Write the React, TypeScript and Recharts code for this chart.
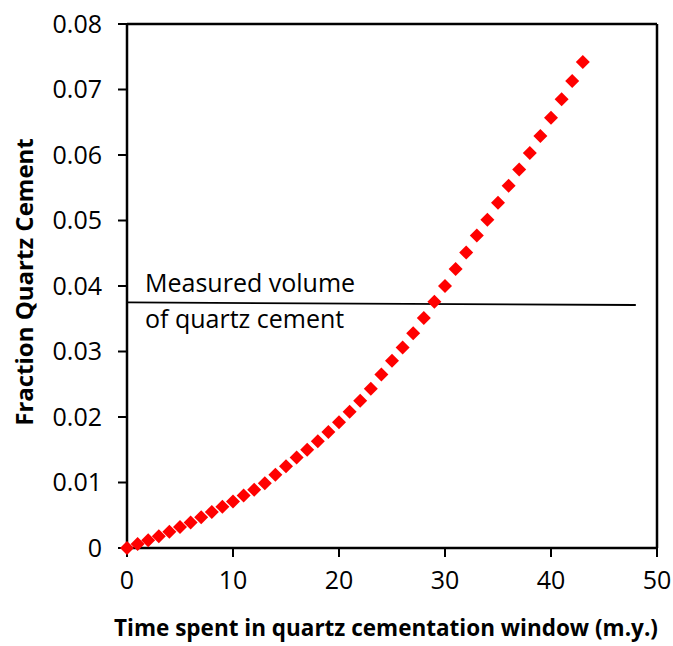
import React from 'react';
import { ScatterChart, Scatter, XAxis, YAxis, ReferenceLine, ReferenceDot, Label } from 'recharts';

// time spent in the quartz cementation window (m.y.)
const timeMy = [
  0, 1, 2, 3, 4, 5, 6, 7, 8, 9, 10, 11, 12, 13, 14, 15, 16, 17, 18, 19, 20, 21,
  22, 23, 24, 25, 26, 27, 28, 29, 30, 31, 32, 33, 34, 35, 36, 37, 38, 39, 40, 41, 42, 43,
];
// fraction of quartz cement
const quartzFraction = [
  0.0, 0.0006, 0.0012, 0.0018, 0.0025, 0.0032, 0.0039, 0.0047, 0.0055, 0.0063, 0.0071,
  0.008, 0.0089, 0.0099, 0.0112, 0.0125, 0.0138, 0.015, 0.0163, 0.0177, 0.0192, 0.0208,
  0.0225, 0.0243, 0.0265, 0.0286, 0.0306, 0.0328, 0.0351, 0.0376, 0.04, 0.0426, 0.0451,
  0.0477, 0.0501, 0.0527, 0.0553, 0.0578, 0.0603, 0.0629, 0.0657, 0.0685, 0.0713, 0.0742,
];
// hand-drawn "measured volume" line, start and end
const measuredX = [0, 48];
const measuredY = [0.0375, 0.0371];
const measuredText = ['Measured volume', 'of quartz cement'];

const xTicks = [0, 10, 20, 30, 40, 50];
const yTicks = [0, 0.01, 0.02, 0.03, 0.04, 0.05, 0.06, 0.07, 0.08];

const font = "'Open Sans', sans-serif";

const points = timeMy.map((t, i) => ({ time: t, fraction: quartzFraction[i] }));

const Diamond = (props: any) => {
  const { cx, cy } = props;
  const h = 7;
  return (
    <polygon
      points={`${cx},${cy - h} ${cx + h},${cy} ${cx},${cy + h} ${cx - h},${cy}`}
      fill="#ff0000"
    />
  );
};

const YTitle = (props: any) => {
  const { viewBox } = props;
  const x = viewBox.x + 15;
  const y = viewBox.y + viewBox.height / 2 - 4;
  return (
    <text
      x={x}
      y={y}
      transform={`rotate(-90, ${x}, ${y})`}
      textAnchor="middle"
      dominantBaseline="central"
      fontFamily={font}
      fontWeight="bold"
      fontSize={24}
      fill="#000"
    >
      Fraction Quartz Cement
    </text>
  );
};

const XTitle = (props: any) => {
  const { viewBox } = props;
  return (
    <text
      x={viewBox.x + viewBox.width / 2 - 6}
      y={viewBox.y + 88}
      textAnchor="middle"
      fontFamily={font}
      fontWeight="bold"
      fontSize={22.5}
      fill="#000"
    >
      Time spent in quartz cementation window (m.y.)
    </text>
  );
};

const NoteLabel = (props: any) => {
  const { viewBox } = props;
  return (
    <text fontFamily={font} fontSize={25} fill="#000">
      <tspan x={viewBox.x} y={viewBox.y}>{measuredText[0]}</tspan>
      <tspan x={viewBox.x} y={viewBox.y + 36}>{measuredText[1]}</tspan>
    </text>
  );
};

export default function App() {
  return (
    <div style={{ position: 'absolute', left: 8, top: 8, width: 665, height: 638 }}>
      <ScatterChart width={665} height={638} margin={{ top: 16, right: 16, left: 0, bottom: 0 }}>
        <XAxis
          dataKey="time"
          type="number"
          domain={[0, 50]}
          ticks={xTicks}
          height={98}
          tickSize={9}
          tickMargin={14}
          axisLine={{ stroke: '#000', strokeWidth: 2.5 }}
          tickLine={{ stroke: '#000', strokeWidth: 2 }}
          tick={{ fontFamily: font, fontSize: 25, fill: '#000' }}
          label={<Label content={XTitle} />}
        />
        <YAxis
          dataKey="fraction"
          type="number"
          domain={[0, 0.08]}
          ticks={yTicks}
          width={119}
          tickSize={9}
          tickMargin={16}
          tickFormatter={(v: number) => (v === 0 ? '0' : v.toFixed(2))}
          axisLine={{ stroke: '#000', strokeWidth: 2.5 }}
          tickLine={{ stroke: '#000', strokeWidth: 2 }}
          tick={{ fontFamily: font, fontSize: 25, fill: '#000' }}
          label={<Label content={YTitle} />}
        />
        <ReferenceLine y={0.08} stroke="#000" strokeWidth={2.5} />
        <ReferenceLine x={50} stroke="#000" strokeWidth={2.5} />
        <ReferenceLine
          segment={[
            { x: measuredX[0], y: measuredY[0] },
            { x: measuredX[1], y: measuredY[1] },
          ]}
          stroke="#000"
          strokeWidth={1.8}
        />
        <ReferenceDot
          x={1.7}
          y={0.0391}
          r={0}
          fill="none"
          stroke="none"
          label={<Label content={NoteLabel} />}
        />
        <Scatter data={points} fill="#ff0000" shape={Diamond} isAnimationActive={false} />
      </ScatterChart>
    </div>
  );
}
